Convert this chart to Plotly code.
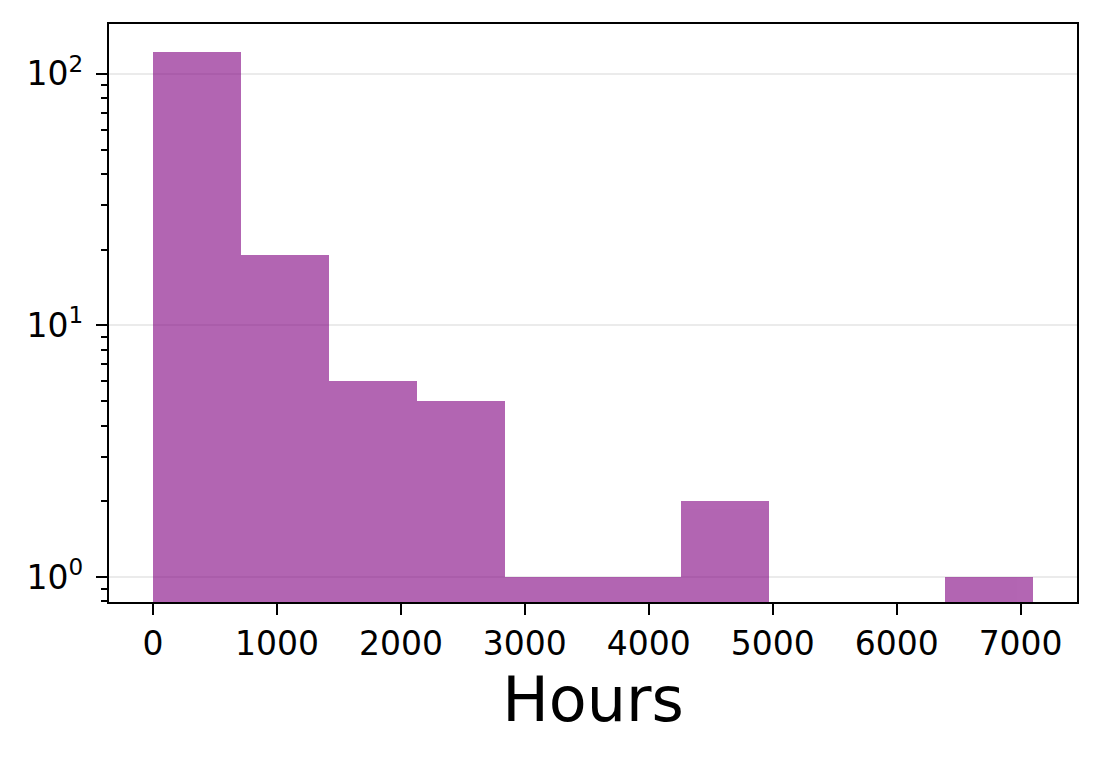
import plotly.graph_objects as go

# Histogram data
bin_edges = [0, 710, 1420, 2130, 2840, 3550, 4260, 4970, 5680, 6390, 7100]
counts = [122, 19, 6, 5, 1, 1, 2, 0, 0, 1]
x_tick_vals = [0, 1000, 2000, 3000, 4000, 5000, 6000, 7000]
x_tick_text = ["0", "1000", "2000", "3000", "4000", "5000", "6000", "7000"]
y_tick_vals = [1, 10, 100]
y_tick_text = ["10<sup>0</sup>", "10<sup>1</sup>", "10<sup>2</sup>"]
y_minor_vals = [0.8, 0.9, 2, 3, 4, 5, 6, 7, 8, 9, 20, 30, 40, 50, 60, 70, 80, 90]

centers = [(a + b) / 2 for a, b in zip(bin_edges[:-1], bin_edges[1:])]
widths = [b - a for a, b in zip(bin_edges[:-1], bin_edges[1:])]
yvals = [c if c > 0 else None for c in counts]

FONT = "DejaVu Sans"
OFF = 8  # page body margin

fig = go.Figure()
fig.add_trace(go.Bar(
    x=centers, y=yvals, width=widths,
    marker=dict(color="purple", line=dict(width=0)),
    opacity=0.6,
    hoverinfo="x+y",
))

span = bin_edges[-1] - bin_edges[0]
fig.update_layout(
    width=1102, height=760,
    margin=dict(l=109 - OFF, r=25 + OFF, t=24 - OFF, b=158 + OFF, autoexpand=False),
    paper_bgcolor="white", plot_bgcolor="white",
    showlegend=False,
    bargap=0,
    font=dict(family=FONT, color="black", size=33),
    xaxis=dict(
        range=[bin_edges[0] - 0.05 * span, bin_edges[-1] + 0.05 * span],
        tickvals=x_tick_vals, ticktext=x_tick_text,
        ticks="outside", ticklen=11, tickwidth=2.4, tickcolor="black",
        showline=True, linecolor="black", linewidth=2.4, mirror=True,
        showgrid=False, zeroline=False,
        tickfont=dict(size=33, family=FONT),
        title=dict(text="Hours", font=dict(size=62, family=FONT), standoff=14),
    ),
    yaxis=dict(
        type="log",
        range=[-0.0992, 2.198],
        tickvals=y_tick_vals, ticktext=y_tick_text,
        ticks="outside", ticklen=11, tickwidth=2.4, tickcolor="black",
        ticklabelstandoff=6,
        showline=True, linecolor="black", linewidth=2.4, mirror=True,
        showgrid=True, gridcolor="#ebebeb", gridwidth=2,
        zeroline=False,
        tickfont=dict(size=33, family=FONT),
        minor=dict(tickvals=y_minor_vals, ticks="outside", ticklen=6,
                   tickwidth=1.8, tickcolor="black", showgrid=False),
    ),
)

fig.write_html("out.html")
